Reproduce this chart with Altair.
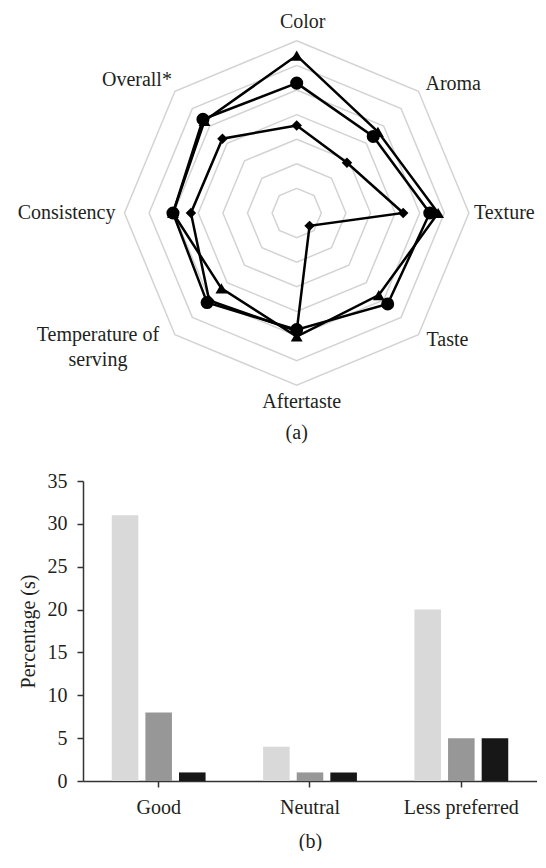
import math
import altair as alt
import pandas as pd

# ---------------- data ----------------
attributes = ["Color", "Aroma", "Texture", "Taste", "Aftertaste",
              "Temperature of serving", "Consistency", "Overall*"]
series_names = ["Sample 1", "Sample 2", "Sample 3"]
diamond_scores = [3.56, 2.89, 4.33, 0.74, 4.80, 5.03, 4.30, 4.27]
triangle_scores = [6.40, 4.67, 5.75, 4.72, 5.02, 4.33, 5.03, 5.30]
circle_scores = [5.28, 4.40, 5.41, 5.23, 4.74, 5.15, 5.03, 5.39]
ring_levels = [1, 2, 3, 4, 5, 6, 7]

bar_categories = ["Good", "Neutral", "Less preferred"]
bar_light = [31, 4, 20]
bar_mid = [8, 1, 5]
bar_dark = [1, 1, 5]
y_tick_values = [0, 5, 10, 15, 20, 25, 30, 35]

# ---------------- style / layout ----------------
FONT = "Liberation Serif"
TEXT_COLOR = "#231f20"
UNIT = 24.6          # px per ring
W1, H1 = 454, 438    # radar panel (its origin is aligned with the bar plot origin)
CX, CY = 213.7, 205  # radar centre inside panel
xdom = [-CX / UNIT, (W1 - CX) / UNIT]
ydom = [-(H1 - CY) / UNIT, CY / UNIT]
xs = alt.Scale(domain=xdom, nice=False, zero=False)
ys = alt.Scale(domain=ydom, nice=False, zero=False)

n = len(attributes)
angles = [2 * math.pi * i / n for i in range(n)]

ring_rows = []
for r in ring_levels:
    for k in range(n + 1):
        a = angles[k % n]
        ring_rows.append({"ring": r, "k": k, "x": r * math.sin(a), "y": r * math.cos(a)})
rings_df = pd.DataFrame(ring_rows)

all_scores = [diamond_scores, triangle_scores, circle_scores]
line_rows, pt_rows = [], []
for name, scores in zip(series_names, all_scores):
    for k in range(n + 1):
        a = angles[k % n]
        v = scores[k % n]
        line_rows.append({"series": name, "k": k, "x": v * math.sin(a), "y": v * math.cos(a)})
    for k in range(n):
        a = angles[k]
        v = scores[k]
        pt_rows.append({"series": name, "attr": attributes[k],
                        "x": v * math.sin(a), "y": v * math.cos(a)})
lines_df = pd.DataFrame(line_rows)
pts_df = pd.DataFrame(pt_rows)

X = alt.X("x:Q", scale=xs, axis=None)
Y = alt.Y("y:Q", scale=ys, axis=None)

rings = alt.Chart(rings_df).mark_line(stroke="#d3d3d3", strokeWidth=1.5).encode(
    x=X, y=Y, detail="ring:N", order="k:Q")

series_lines = alt.Chart(lines_df).mark_line(color="black", strokeWidth=2.5).encode(
    x=X, y=Y, detail="series:N", order="k:Q")

points = alt.Chart(pts_df).mark_point(filled=True, opacity=1, color="black").encode(
    x=X, y=Y,
    shape=alt.Shape("series:N", scale=alt.Scale(domain=series_names,
                    range=["diamond", "triangle-up", "circle"]), legend=None),
    size=alt.Size("series:N", scale=alt.Scale(domain=series_names,
                  range=[110, 170, 160]), legend=None),
)

label_style = {
    "Color": ("center", 6, -19),
    "Aroma": ("left", 7, -7),
    "Texture": ("left", 5, 0),
    "Taste": ("left", 8, 5),
    "Aftertaste": ("center", 5, 17),
    "Consistency": ("right", -9, 0),
    "Overall*": ("right", -3, -11),
}
layers = [rings, series_lines, points]
R = ring_levels[-1]
for i, att in enumerate(attributes):
    a = angles[i]
    vx, vy = R * math.sin(a), R * math.cos(a)
    if att == "Temperature of serving":
        for txt, extra in [("Temperature of", 0), ("serving", 25)]:
            layers.append(
                alt.Chart(pd.DataFrame({"x": [vx], "y": [vy], "t": [txt]}))
                .mark_text(font=FONT, fontSize=20, color=TEXT_COLOR, align="center",
                           baseline="middle", dx=-77, dy=extra)
                .encode(x=X, y=Y, text="t:N"))
        continue
    al, dx, dy = label_style[att]
    layers.append(
        alt.Chart(pd.DataFrame({"x": [vx], "y": [vy], "t": [att]}))
        .mark_text(font=FONT, fontSize=20, color=TEXT_COLOR, align=al,
                   baseline="middle", dx=dx, dy=dy)
        .encode(x=X, y=Y, text="t:N"))

layers.append(
    alt.Chart(pd.DataFrame({"x": [0.0], "y": [-float(R)], "t": ["(a)"]}))
    .mark_text(font=FONT, fontSize=20, color=TEXT_COLOR, align="center",
               baseline="middle", dy=48)
    .encode(x=X, y=Y, text="t:N"))

radar = alt.layer(*layers).properties(width=W1, height=H1)

# ---------------- bar chart ----------------
bar_rows = []
for ci, cat in enumerate(bar_categories):
    for name, vals in zip(series_names, [bar_light, bar_mid, bar_dark]):
        bar_rows.append({"category": cat, "group": name, "value": vals[ci]})
bars_df = pd.DataFrame(bar_rows)

bars = alt.Chart(bars_df).mark_bar().encode(
    x=alt.X("category:N", sort=bar_categories,
            scale=alt.Scale(paddingInner=0.38, paddingOuter=0.19),
            axis=alt.Axis(title="(b)", labelAngle=0, labelPadding=10,
                          titlePadding=14, tickSize=6)),
    xOffset=alt.XOffset("group:N", sort=series_names,
                        scale=alt.Scale(paddingInner=0.21, paddingOuter=0)),
    y=alt.Y("value:Q", scale=alt.Scale(domain=[0, 35], nice=False),
            axis=alt.Axis(title="Percentage (s)", values=y_tick_values,
                          labelPadding=10, titlePadding=9, tickSize=6)),
    color=alt.Color("group:N", scale=alt.Scale(domain=series_names,
                    range=["#d9d9d9", "#979797", "#171717"]), legend=None),
).properties(width=454, height=300)

chart = alt.vconcat(radar, bars, spacing=25).properties(
    padding={"left": 9, "top": 0, "right": 0, "bottom": 0}
).configure_view(stroke=None).configure_axis(
    grid=False,
    domainColor="#333333",
    domainWidth=1.5,
    tickColor="#333333",
    tickWidth=1.5,
    labelFont=FONT,
    labelFontSize=20,
    labelColor=TEXT_COLOR,
    titleFont=FONT,
    titleFontSize=20,
    titleFontWeight="normal",
    titleColor=TEXT_COLOR,
)

chart.save("out.html", embed_options={"renderer": "svg", "actions": False})
